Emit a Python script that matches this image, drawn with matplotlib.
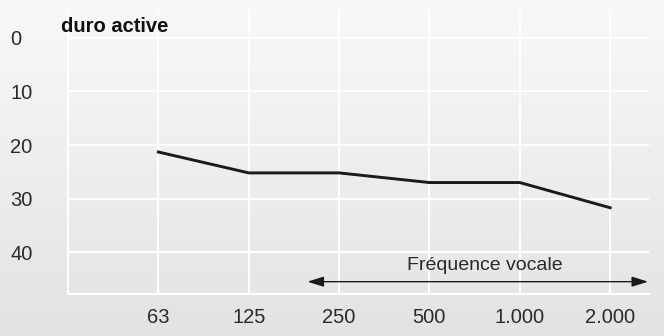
import numpy as np
import matplotlib.pyplot as plt

plt.rcParams['font.family'] = ['Liberation Sans', 'DejaVu Sans']

freqs = ['63', '125', '250', '500', '1.000', '2.000']
values = [21.3, 25.2, 25.2, 27.0, 27.0, 31.7]
yticks = [0, 10, 20, 30, 40]
title = 'duro active'
arrow_label = 'Fréquence vocale'

fig = plt.figure(figsize=(6.64, 3.36), dpi=100)

# background gradient over the whole figure
bg = fig.add_axes([0, 0, 1, 1], zorder=-1)
grad = np.linspace(0, 1, 256).reshape(-1, 1)
top = np.array([0.975, 0.975, 0.975])
bot = np.array([0.886, 0.890, 0.894])
img = top + (bot - top) * grad[..., None]
bg.imshow(img, aspect='auto', extent=[0, 1, 0, 1], origin='upper')
bg.axis('off')

ax = fig.add_axes([68/664, (336-294)/336, (649-68)/664, (294-10)/336])
ax.patch.set_alpha(0)
x = np.arange(1, len(freqs) + 1)
ax.plot(x, values, color='#1a1a1a', lw=2.1, solid_joinstyle='miter', zorder=3)

ax.set_xlim(0, 6.43)
ax.set_ylim(47.8, -5.2)
ax.set_xticks(x)
ax.set_xticklabels(freqs)
ax.set_yticks(yticks)
ax.set_yticklabels([str(v) for v in yticks], ha='left')
ax.tick_params(length=0, labelsize=14.5, labelcolor='#2a2a2a')
ax.tick_params(axis='y', pad=41.5)
ax.tick_params(axis='x', pad=10)
ax.grid(True, color='white', lw=1.4)
ax.set_axisbelow(True)
for s in ['top', 'right']:
    ax.spines[s].set_visible(False)
for s in ['left', 'bottom']:
    ax.spines[s].set_color('white')
    ax.spines[s].set_linewidth(1.4)

ax.annotate('', xy=(2.65, 45.5), xytext=(6.42, 45.5),
            arrowprops=dict(arrowstyle='<|-|>,head_length=0.7,head_width=0.22',
                            color='#1a1a1a', lw=1.0,
                            mutation_scale=14, shrinkA=0, shrinkB=0))
ax.text(4.61, 42.5, arrow_label, ha='center', va='center', fontsize=14,
        color='#2a2a2a')

fig.text(61/664, 1 - 26/336, title, ha='left', va='center', fontsize=14.5,
         fontweight='bold', color='#111111')

fig.savefig('out.png', dpi=100)
